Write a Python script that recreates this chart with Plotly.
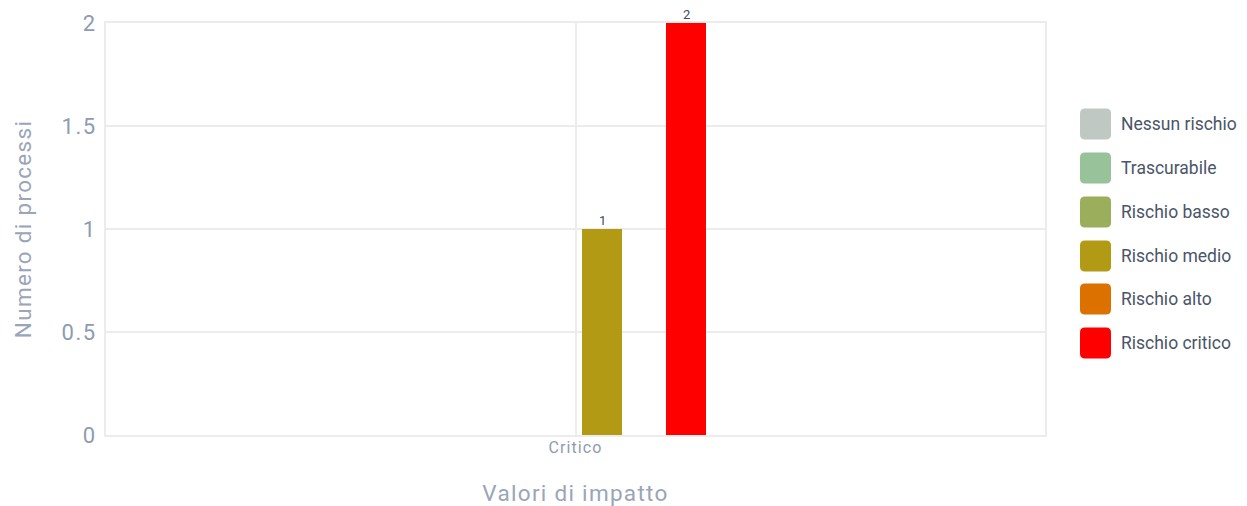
import plotly.graph_objects as go

categories = ["Critico"]
series_names = ["Nessun rischio", "Trascurabile", "Rischio basso",
                "Rischio medio", "Rischio alto", "Rischio critico"]
series_values = {
    "Nessun rischio": [0],
    "Trascurabile": [0],
    "Rischio basso": [0],
    "Rischio medio": [1],
    "Rischio alto": [0],
    "Rischio critico": [2],
}
series_colors = ["#c0c8c4", "#98c29a", "#9aae5c", "#b29a14", "#dc7100", "#ff0000"]
y_ticks = [0, 0.5, 1, 1.5, 2]
y_ticktext = ["0", "0.5", "1", "1.5", "2"]


def ls(text, px):
    return f'<span style="letter-spacing:{px}px">{text}</span>'


# page body has an 8px margin; compensate so the picture lands where the reference has it
OFF = 8
W, H = 1247 - 2 * OFF, 506 - OFF
L, T = 106 - OFF, 23 - OFF
R = W - (1045 - OFF)
B = H - (435 - OFF)
PW = W - L - R
PH = H - T - B

# bar geometry (screen pixels)
group_left_px = 456
slot_px = 42
bar_px = 40
center_px = 106 + PW / 2

fig = go.Figure()
annotations = []
for i, name in enumerate(series_names):
    vals = series_values[name]
    left = group_left_px + slot_px * i
    fig.add_trace(go.Bar(
        x=categories, y=vals, name=name,
        marker=dict(color=series_colors[i], line=dict(width=0)),
        width=bar_px / PW,
        offset=(left - center_px) / PW,
        showlegend=False,
    ))
    # value labels above non-zero bars
    for c, v in zip(categories, vals):
        if v:
            annotations.append(dict(
                x=c, y=v, xref="x", yref="y", text=str(v), showarrow=False,
                xshift=left + bar_px / 2 - center_px, yshift=-1,
                xanchor="center", yanchor="bottom",
                font=dict(family="Roboto", size=13, color="#3f4a5a")))

# custom legend (screen pixels)
legend_y_px = [124, 168, 212, 256, 299, 343]
shapes = []
r = 5
w = 31
h = 31
x0 = 1080 - 1045
for i, name in enumerate(series_names):
    yc = (435 - legend_y_px[i]) / PH
    path = (f"M {x0 + r},{-h/2} L {x0 + w - r},{-h/2} Q {x0 + w},{-h/2} {x0 + w},{-h/2 + r} "
            f"L {x0 + w},{h/2 - r} Q {x0 + w},{h/2} {x0 + w - r},{h/2} "
            f"L {x0 + r},{h/2} Q {x0},{h/2} {x0},{h/2 - r} "
            f"L {x0},{-h/2 + r} Q {x0},{-h/2} {x0 + r},{-h/2} Z")
    shapes.append(dict(type="path", xref="paper", yref="paper",
                       xsizemode="pixel", ysizemode="pixel",
                       xanchor=1, yanchor=yc, path=path,
                       fillcolor=series_colors[i], line=dict(width=0), layer="above"))
    annotations.append(dict(x=(1119 - 106) / PW, y=yc, xref="paper", yref="paper",
                            text=name, showarrow=False, xanchor="left", yanchor="middle",
                            font=dict(family="Roboto", size=17.5, color="#4a5568")))

fig.update_layout(
    width=W, height=H,
    margin=dict(l=L, r=R, t=T, b=B, autoexpand=False),
    plot_bgcolor="white", paper_bgcolor="white",
    barmode="group",
    showlegend=False,
    shapes=shapes,
    annotations=annotations,
    font=dict(family="Roboto"),
    xaxis=dict(
        type="category",
        range=[-0.5, 0.5],
        automargin=False,
        tickvals=categories, ticktext=[ls(c, 1.1) for c in categories],
        showgrid=True, gridcolor="#ececec", gridwidth=2,
        showline=True, linecolor="#ececec", linewidth=2, mirror=True,
        ticks="", ticklabelstandoff=-3,
        tickfont=dict(family="Roboto", size=16, color="#8e9bb0"),
        title=dict(text=ls("Valori di impatto", 1.3),
                   font=dict(family="Roboto", size=22.5, color="#9aa5b8"),
                   standoff=29),
        zeroline=False,
    ),
    yaxis=dict(
        range=[0, 2],
        automargin=False,
        tickvals=y_ticks, ticktext=[ls(t, 1.5) for t in y_ticktext],
        showgrid=True, gridcolor="#ececec", gridwidth=2,
        showline=True, linecolor="#ececec", linewidth=2, mirror=True,
        ticks="", ticklabelstandoff=3,
        tickfont=dict(family="Roboto", size=22, color="#8e9bb0"),
        title=dict(text=ls("Numero di processi", 1.3),
                   font=dict(family="Roboto", size=22.5, color="#9aa5b8"),
                   standoff=24),
        zeroline=False,
    ),
)

fig.write_html("out.html")
